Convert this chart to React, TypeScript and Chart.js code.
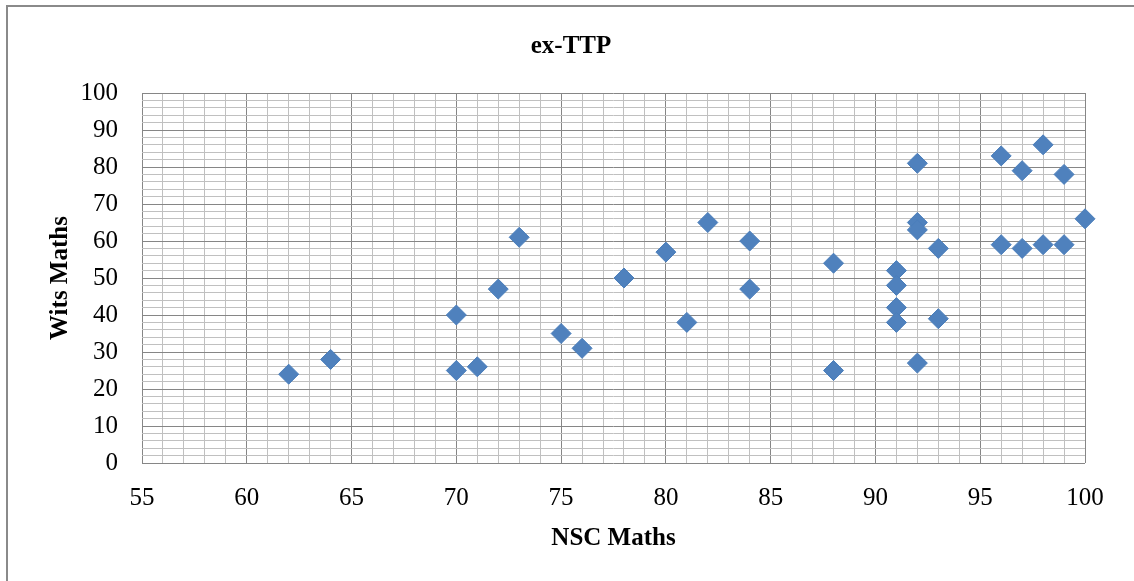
import React, { useEffect, useRef } from 'react';
import { Chart, registerables } from 'chart.js';

Chart.register(...registerables);

const chartTitle = 'ex-TTP';
const xAxisTitle = 'NSC Maths';
const yAxisTitle = 'Wits Maths';

const nscMaths = [62, 64, 70, 70, 71, 72, 73, 75, 76, 78, 80, 81, 82, 84, 84, 88, 88, 91, 91, 91, 91, 92, 92, 92, 92, 93, 93, 96, 96, 97, 97, 98, 98, 99, 99, 100];
const witsMaths = [24, 28, 40, 25, 26, 47, 61, 35, 31, 50, 57, 38, 65, 60, 47, 54, 25, 52, 48, 42, 38, 81, 65, 63, 27, 58, 39, 83, 59, 79, 58, 86, 59, 78, 59, 66];

const xMin = 55;
const xMax = 100;
const xMajorStep = 5;
const yMin = 0;
const yMax = 100;
const yMajorStep = 10;

const serif = "'Liberation Serif', 'Times New Roman', serif";
const majorGrid = '#868686';
const minorGrid = '#c0c0c0';

export default function App() {
  const canvasRef = useRef<HTMLCanvasElement | null>(null);

  useEffect(() => {
    const canvas = canvasRef.current;
    if (!canvas) return;
    const points = nscMaths.map((x, i) => ({ x, y: witsMaths[i] }));
    const chart = new Chart(canvas, {
      type: 'scatter',
      data: {
        datasets: [
          {
            label: yAxisTitle,
            data: points,
            pointStyle: 'rectRot',
            pointRadius: 10,
            pointHoverRadius: 10,
            backgroundColor: '#4f81bd',
            borderColor: '#4a7ebb',
            borderWidth: 1,
            clip: false,
          } as any,
        ],
      },
      options: {
        responsive: false,
        animation: false,
        devicePixelRatio: 1,
        layout: { padding: { left: 57, right: 49, top: 0, bottom: 20 } },
        plugins: {
          legend: { display: false },
          tooltip: { enabled: false },
          title: {
            display: true,
            text: chartTitle,
            color: '#000',
            font: { family: serif, size: 25, weight: 'bold' },
            padding: { top: 32, bottom: 31 },
          },
        },
        scales: {
          x: {
            type: 'linear',
            min: xMin,
            max: xMax,
            border: { display: false },
            afterFit: (scale: any) => {
              scale.height = 98;
            },
            grid: {
              drawTicks: false,
              lineWidth: 1,
              color: (ctx: any) => (ctx.tick && ctx.tick.value % xMajorStep === 0 ? majorGrid : minorGrid),
            },
            ticks: {
              stepSize: 1,
              autoSkip: false,
              maxRotation: 0,
              color: '#000',
              padding: 20,
              font: { family: serif, size: 25 },
              callback: (v: any) => (Number(v) % xMajorStep === 0 ? String(v) : ''),
            },
            title: {
              display: true,
              text: xAxisTitle,
              color: '#000',
              font: { family: serif, size: 25, weight: 'bold' },
              padding: { top: 0, bottom: 7 },
            },
          },
          y: {
            type: 'linear',
            min: yMin,
            max: yMax,
            border: { display: false },
            afterFit: (scale: any) => {
              scale.width = 85;
            },
            grid: {
              drawTicks: false,
              lineWidth: 1,
              color: (ctx: any) => (ctx.tick && ctx.tick.value % yMajorStep === 0 ? majorGrid : minorGrid),
            },
            ticks: {
              stepSize: 2,
              autoSkip: false,
              color: '#000',
              padding: 24,
              font: { family: serif, size: 25 },
              callback: (v: any) => (Number(v) % yMajorStep === 0 ? String(v) : ''),
            },
            title: {
              display: true,
              text: yAxisTitle,
              color: '#000',
              font: { family: serif, size: 25, weight: 'bold' },
              padding: { top: -11, bottom: 0 },
            },
          },
        },
      },
    });
    return () => chart.destroy();
  }, []);

  return (
    <div style={{ position: 'fixed', left: 0, top: 0, width: 1134, height: 581, overflow: 'hidden', background: '#fff' }}>
      <canvas ref={canvasRef} width={1134} height={581} style={{ position: 'absolute', left: 0, top: 0 }} />
      <div
        style={{
          position: 'absolute',
          left: 6,
          top: 5,
          width: 1140,
          height: 640,
          border: '2px solid #8a8a8a',
          boxSizing: 'border-box',
          pointerEvents: 'none',
        }}
      />
    </div>
  );
}
